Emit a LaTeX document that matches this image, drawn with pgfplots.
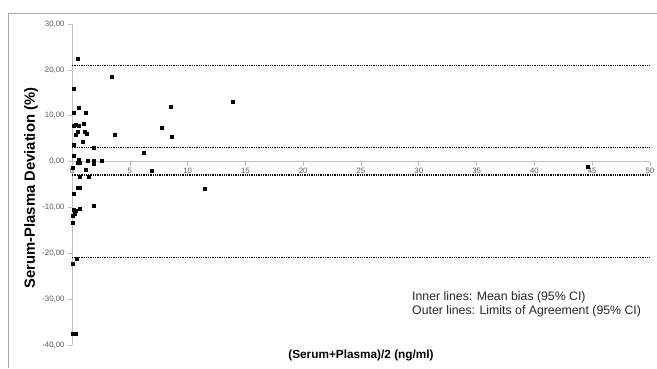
\documentclass[border=0pt]{standalone}
\usepackage{pgfplots}
\pgfplotsset{compat=1.18}
\usepackage{fontspec}
\setmainfont{Liberation Sans}
\definecolor{ticklab}{HTML}{595959}
\definecolor{axgray}{HTML}{BFBFBF}
\definecolor{framegray}{HTML}{A6A6A6}
\begin{document}
\begin{tikzpicture}[x=1pt,y=1pt]
\path[use as bounding box] (0,0) rectangle (657,368);
\draw[color=framegray, line width=0.9pt] (8.5,0) -- (8.5,355) -- (657,355);
\begin{axis}[
  at={(72pt,23pt)}, anchor=south west,
  scale only axis, width=578pt, height=321pt,
  xmin=0, xmax=50, ymin=-40, ymax=30,
  axis x line=middle, axis y line=left,
  axis line style={axgray,-, line width=0.6pt},
  hide obscured x ticks=false,
  xtick={0,5,...,50}, ytick={-40,-30,...,30},
  tick style={axgray, line width=0.6pt}, major tick length=4pt,
  tick align=outside,
  tick label style={font=\fontsize{7.8}{9}\selectfont, text=ticklab},
  y tick label style={/pgf/number format/.cd, fixed, fixed zerofill, precision=2, use comma, assume math mode=true},
  x tick label style={/pgf/number format/assume math mode=true, yshift=1pt},
  clip=false,
]
\addplot[black, densely dotted, line width=1.3pt] coordinates {(0,20.9) (50,20.9)};
\addplot[black, densely dotted, line width=1.3pt] coordinates {(0,3.0) (50,3.0)};
\addplot[black, densely dotted, line width=1.3pt] coordinates {(0,-2.9) (50,-2.9)};
\addplot[black, densely dotted, line width=1.3pt] coordinates {(0,-20.9) (50,-20.9)};
\addplot[only marks, mark=square*, mark size=1.5pt, black] coordinates {
(0.52,22.4) (0.12,16.0) (3.46,18.6) (0.17,10.6) (0.55,11.7) (1.15,10.6)
(0.12,7.8) (0.35,8.0) (0.58,7.8) (1.04,8.3) (0.46,6.6) (0.29,5.8)
(1.10,6.5) (1.27,6.0) (0.92,4.3) (0.17,3.7) (1.85,3.0) (3.69,5.8)
(7.79,7.3) (8.54,11.9) (8.65,5.5) (13.9,13.1) (6.17,1.9) (6.89,-1.9)
(11.48,-5.9) (2.6,0.1) (1.9,0.1) (1.85,-0.4) (1.33,0.1) (0.58,0.4)
(0.46,-0.3) (0.7,-0.2) (0.12,1.2) (0.06,-1.4) (1.15,-1.7) (0.69,-3.2)
(1.41,-3.4) (0.12,-7.0) (0.46,-5.7) (0.69,-5.7) (0.12,-10.5) (0.29,-10.8)
(0.63,-10.2) (0.06,-11.8) (0.2,-11.3) (1.9,-9.6) (0.06,-13.4) (0.4,-21.1)
(0.09,-22.2) (0.06,-37.5) (0.29,-37.5) (44.6,-1.1)
};
\end{axis}
\node[anchor=base west, inner sep=0pt, font=\fontsize{12.3}{14}\selectfont, text=black!85] at (412,68) {Inner lines: Mean bias (95\% CI)};
\node[anchor=base west, inner sep=0pt, font=\fontsize{12.3}{14}\selectfont, text=black!85] at (412,54) {Outer lines: Limits of Agreement (95\% CI)};
\node[rotate=90, font=\bfseries\fontsize{14.8}{16}\selectfont] at (31,180) {Serum-Plasma Deviation (\%)};
\node[anchor=base, inner sep=0pt, font=\bfseries\fontsize{11.8}{13}\selectfont] at (361,9.5) {(Serum+Plasma)/2 (ng/ml)};
\end{tikzpicture}
\end{document}
